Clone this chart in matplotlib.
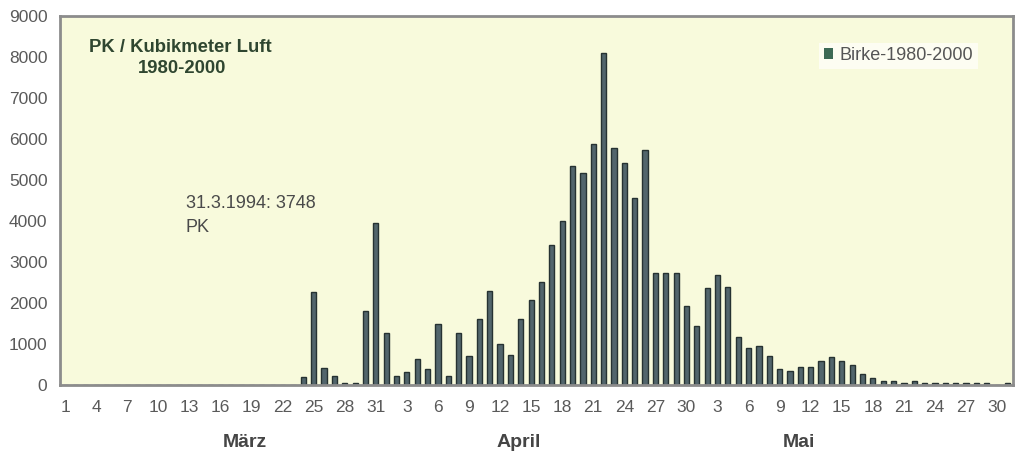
import numpy as np
import pandas as pd
import matplotlib
matplotlib.use('Agg')
import matplotlib.pyplot as plt
import matplotlib.transforms as mtransforms

plt.rcParams['font.family'] = ['Liberation Sans', 'DejaVu Sans']

# daily mean pollen counts, 1 March - 31 May
days = pd.date_range(start='2000-03-01', end='2000-05-31', freq='D')
birke = [0] * 23 + [
    200, 2280, 420, 220, 50, 50, 1800, 3950,
    1280, 220, 320, 640, 380, 1480, 220, 1280, 700, 1600,
    2290, 1000, 740, 1600, 2070, 2510, 3420, 4000, 5340, 5180,
    5870, 8100, 5780, 5410, 4550, 5720, 2740, 2740, 2740, 1930,
    1440, 2360, 2680, 2400, 1180, 910, 960, 700, 380, 330,
    430, 430, 590, 690, 590, 480, 270, 160, 100, 100,
    50, 100, 50, 40, 40, 40, 40, 40, 40, 10, 40,
]
months = ['März', 'April', 'Mai']
month_pos = [17.4, 43.8, 70.9]
title_lines = ['PK / Kubikmeter Luft', '1980-2000']
note = '31.3.1994: 3748\nPK'
legend_label = 'Birke-1980-2000'

x = np.arange(len(days))
tick_idx = x[::3]
tick_lab = [str(d.day) for d in days[::3]]

fig = plt.figure(figsize=(10.2, 4.57), dpi=100)
ax = fig.add_axes([0.0588, 0.1575, 0.934, 0.8075])
ax.set_facecolor('#f8fadc')

bars = ax.bar(x, birke, width=0.5, color='#52656c', edgecolor='#263232',
              linewidth=1.0)

ax.set_xlim(-0.5, len(days) - 0.5)
ax.set_ylim(0, 9000)
ax.set_yticks(np.arange(0, 9001, 1000))
ax.set_xticks(tick_idx)
ax.set_xticklabels(tick_lab)
ax.tick_params(length=0, labelsize=12.5, labelcolor='#5a5a5a')
ax.tick_params(axis='x', pad=11)
ax.tick_params(axis='y', pad=9)
for s in ax.spines.values():
    s.set_color('#8c8c8c')
    s.set_linewidth(2)

trans = mtransforms.blended_transform_factory(ax.transData, ax.transAxes)
for m, p in zip(months, month_pos):
    ax.text(p, -0.157, m, transform=trans, ha='center', va='center',
            fontsize=14, fontweight='bold', color='#454545')

ax.text(0.126, 0.915, title_lines[0], transform=ax.transAxes, ha='center',
        va='center', fontsize=13.3, fontweight='bold', color='#2f4630')
ax.text(0.128, 0.857, title_lines[1], transform=ax.transAxes, ha='center',
        va='center', fontsize=13.3, fontweight='bold', color='#2f4630')
ax.text(0.132, 0.46, note, transform=ax.transAxes, ha='left', va='center',
        fontsize=13, color='#4a4a4a', linespacing=1.55)

# legend with its own small square marker
handle = plt.Rectangle((0, 0), 1, 1, facecolor='#3d6a55', edgecolor='none')
leg = ax.legend([handle], [legend_label], loc='upper right',
                bbox_to_anchor=(0.973, 0.952), frameon=True,
                facecolor='#fdfdf2', edgecolor='none', fancybox=False,
                framealpha=1, handlelength=0.55, handleheight=0.55,
                handletextpad=0.35, borderpad=0.25, fontsize=13)
for t in leg.get_texts():
    t.set_color('#555555')

fig.savefig('out.png', dpi=100, facecolor='white')
